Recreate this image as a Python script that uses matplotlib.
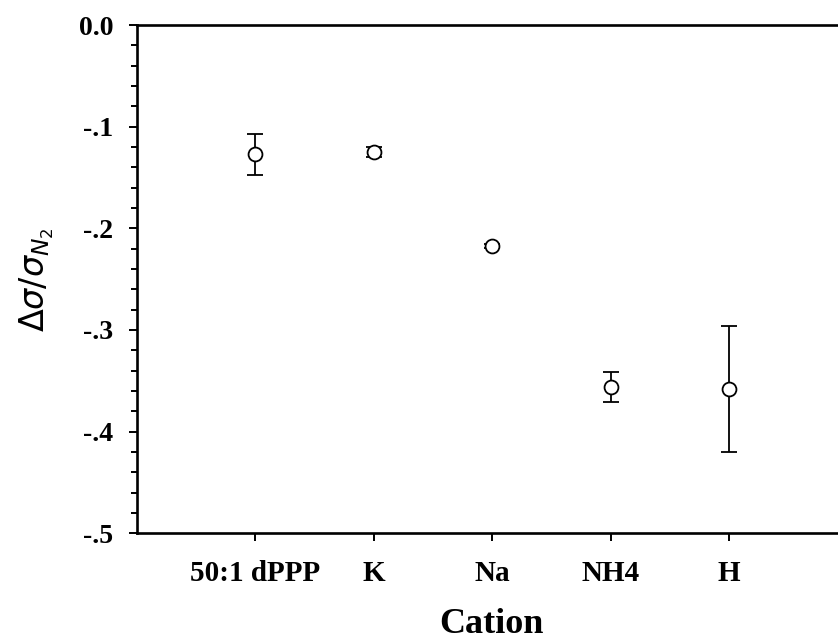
import numpy as np
import matplotlib.pyplot as plt

# values
cations = ['50:1 dPPP', 'K', 'Na', 'NH4', 'H']
dsigma = [-0.127, -0.125, -0.217, -0.356, -0.358]
dsigma_err = [0.020, 0.005, 0.002, 0.015, 0.062]
ytick_vals = [0.0, -0.1, -0.2, -0.3, -0.4, -0.5]
ytick_labels = ['0.0', '-.1', '-.2', '-.3', '-.4', '-.5']

plt.rcParams['mathtext.fontset'] = 'dejavusans'
serif = 'Liberation Serif'

fig = plt.figure(figsize=(8.38, 6.44), dpi=100)
ax = fig.add_axes([0.1635, 0.172, 1.0 - 0.1635, 0.961 - 0.172])

x = np.arange(1, len(cations) + 1)
ax.errorbar(x, dsigma, yerr=dsigma_err, fmt='o', color='black',
            mfc='white', mec='black', ms=10, mew=1.3,
            elinewidth=1.3, capsize=5.5, capthick=1.3)

ax.set_xlim(0, 5.92)
ax.set_ylim(-0.5, 0.0)

ax.set_xticks(x)
ax.set_xticklabels(cations, fontfamily=serif, fontweight='bold', fontsize=21)
ax.set_yticks(ytick_vals)
ax.set_yticklabels(ytick_labels, fontfamily=serif, fontweight='bold', fontsize=20)
ax.set_yticks(np.arange(-0.5, 0.001, 0.02), minor=True)

ax.tick_params(axis='y', which='major', direction='out', length=6, width=1.4, pad=11)
ax.tick_params(axis='y', which='minor', direction='out', length=4, width=1.4)
ax.tick_params(axis='x', which='major', direction='out', length=6, width=1.4, pad=13)

for side in ['left', 'bottom', 'top']:
    ax.spines[side].set_linewidth(1.9)
ax.spines['right'].set_visible(False)

ax.set_xlabel('Cation', fontfamily=serif, fontweight='bold', fontsize=26)
ax.xaxis.set_label_coords(0.505, -0.148)
ax.set_ylabel(r'$\mathit{\Delta\sigma/\sigma_{N_2}}$', fontsize=24)
ax.yaxis.set_label_coords(-0.115, 0.5)

fig.savefig('out.png', dpi=100)
